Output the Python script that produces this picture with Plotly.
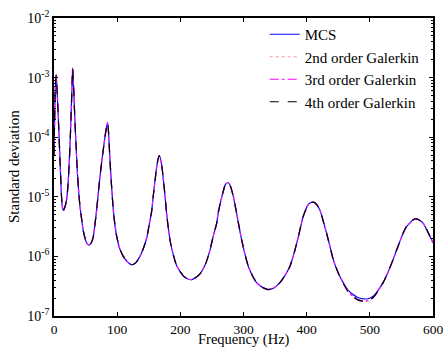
import plotly.graph_objects as go

# Frequency samples (Hz)
freq = [0, 1, 2, 3.3, 4.3, 5.5, 7.4, 9.5, 11.6, 13, 14.8, 17, 20, 22.5, 24.3, 26, 27, 28.5,
        29.5, 30.5, 31.6, 33, 34.8, 36.5, 38.5, 41, 43.8, 46, 49, 52, 55, 58, 62, 65, 67.5,
        70, 72.8, 75.5, 78, 80, 82.3, 84.9, 86.5, 88.6, 91, 93.9, 96.5, 99.2, 104, 109.7,
        116, 123, 130, 136, 141, 146.6, 151, 154.5, 157, 159.8, 163.4, 166.6, 170.4, 173,
        175.6, 178, 180.9, 184, 188.8, 194, 199.4, 205, 212, 218, 225, 232, 238, 241.6,
        246.8, 252.1, 257.4, 260, 262.7, 267.9, 271, 274.8, 278, 281.1, 285, 289, 293, 297,
        302, 307.4, 314, 320.7, 330, 339, 348, 357.6, 365, 373.4, 380, 386.6, 394.5, 402.4,
        406, 410.3, 415, 420.9, 426, 431.5, 437, 442, 450, 457.8, 465, 473.6, 481, 489.4,
        497, 505.2, 513, 521, 529, 536.9, 545, 552.7, 558, 563.3, 568, 572.8, 578, 584.3,
        590, 595, 600]

# log10 of the standard deviation, MCS
mcs_log10 = [-4.3, -3.7, -3.2, -2.96, -3.1, -3.35, -3.82, -4.38, -4.94, -5.15, -5.23, -5.18,
             -5.05, -4.75, -4.38, -3.95, -3.65, -3.15, -2.84, -3.05, -3.3, -3.7, -4.1, -4.5,
             -4.83, -5.15, -5.38, -5.55, -5.69, -5.78, -5.81, -5.79, -5.68, -5.45, -5.22,
             -4.95, -4.66, -4.42, -4.21, -4.05, -3.88, -3.75, -3.95, -4.38, -4.8, -5.22,
             -5.48, -5.66, -5.87, -6.0, -6.09, -6.14, -6.1, -6.0, -5.88, -5.7, -5.45, -5.25,
             -5.0, -4.74, -4.44, -4.31, -4.46, -4.7, -4.97, -5.25, -5.52, -5.75, -5.97,
             -6.15, -6.25, -6.33, -6.38, -6.39, -6.35, -6.28, -6.17, -6.08, -5.9, -5.66,
             -5.45, -5.27, -5.13, -4.91, -4.8, -4.76, -4.79, -4.88, -5.05, -5.27, -5.5,
             -5.72, -5.95, -6.16, -6.32, -6.44, -6.52, -6.556, -6.53, -6.44, -6.33, -6.17,
             -5.95, -5.68, -5.33, -5.13, -5.1, -5.09, -5.12, -5.22, -5.4, -5.61, -5.84,
             -6.05, -6.28, -6.44, -6.56, -6.64, -6.69, -6.712, -6.71, -6.67, -6.57, -6.44,
             -6.26, -6.05, -5.82, -5.61, -5.5, -5.44, -5.39, -5.372, -5.39, -5.44, -5.55,
             -5.66, -5.77]

# log10 of the standard deviation, Galerkin (2nd/3rd/4th order coincide visually)
gal_log10 = [-4.3, -3.7, -3.2, -2.96, -3.1, -3.35, -3.82, -4.38, -4.94, -5.15, -5.23, -5.18,
             -5.05, -4.75, -4.38, -3.95, -3.65, -3.15, -2.84, -3.05, -3.3, -3.7, -4.1, -4.5,
             -4.83, -5.15, -5.38, -5.55, -5.69, -5.78, -5.81, -5.79, -5.68, -5.45, -5.22,
             -4.95, -4.66, -4.42, -4.21, -4.05, -3.88, -3.75, -3.95, -4.38, -4.8, -5.22,
             -5.48, -5.66, -5.87, -6.0, -6.09, -6.14, -6.1, -6.0, -5.88, -5.7, -5.45, -5.25,
             -5.0, -4.74, -4.44, -4.31, -4.46, -4.7, -4.97, -5.25, -5.52, -5.75, -5.97,
             -6.15, -6.25, -6.33, -6.38, -6.39, -6.35, -6.28, -6.17, -6.08, -5.9, -5.66,
             -5.45, -5.27, -5.13, -4.91, -4.8, -4.76, -4.79, -4.88, -5.05, -5.27, -5.5,
             -5.72, -5.95, -6.16, -6.32, -6.44, -6.52, -6.556, -6.53, -6.44, -6.33, -6.17,
             -5.95, -5.68, -5.33, -5.13, -5.1, -5.09, -5.12, -5.22, -5.4, -5.61, -5.84,
             -6.05, -6.28, -6.45, -6.58, -6.67, -6.73, -6.75, -6.745, -6.69, -6.58, -6.44,
             -6.26, -6.05, -5.82, -5.61, -5.5, -5.44, -5.39, -5.372, -5.39, -5.44, -5.55,
             -5.66, -5.77]

series_names = ["MCS", "2nd order Galerkin", "3rd order Galerkin", "4th order Galerkin"]
series_vals = [mcs_log10, gal_log10, gal_log10, gal_log10]
colors = ["#0000ff", "#ff9999", "#ff00ff", "#000000"]
dashes = ["solid", "dot", "dashdot", "dash"]

y_decades = [-7, -6, -5, -4, -3, -2]
y_ticktext = ["10<sup>-%d</sup>" % (-e) for e in y_decades]
y_minor = [m * 10.0 ** e for e in y_decades[:-1] for m in range(2, 10)]

x_title = "Frequency (Hz)"
y_title = "Standard deviation"

SERIF = "Liberation Serif, Times New Roman, Times, serif"

fig = go.Figure()
for name, vals, c, d in zip(series_names, series_vals, colors, dashes):
    fig.add_trace(go.Scatter(
        x=freq, y=[10 ** v for v in vals], mode="lines", name=name,
        line=dict(color=c, dash=d, width=1.2, shape="spline", smoothing=0.6)))

fig.update_layout(
    width=445, height=350,
    margin=dict(l=54, r=12, t=18, b=34),
    paper_bgcolor="white", plot_bgcolor="white",
    font=dict(family=SERIF, size=15, color="black"),
    showlegend=True,
    legend=dict(x=0.556, xanchor="left", y=1.0, yanchor="top",
                bgcolor="rgba(0,0,0,0)",
                font=dict(family=SERIF, size=15, color="black"),
                tracegroupgap=0, itemwidth=30),
    xaxis=dict(range=[0, 600], dtick=100, tick0=0, showgrid=False, zeroline=False,
               automargin=False,
               showline=True, linecolor="black", linewidth=1.5, mirror="allticks",
               ticks="inside", ticklen=4, tickcolor="black",
               tickfont=dict(family=SERIF, size=13.5, color="black")),
    yaxis=dict(type="log", range=[-7, -2],
               tickmode="array", tickvals=[10.0 ** e for e in y_decades],
               ticktext=y_ticktext,
               showgrid=False, zeroline=False, automargin=False,
               showline=True, linecolor="black", linewidth=1.5, mirror="allticks",
               ticks="inside", ticklen=4, tickcolor="black",
               tickfont=dict(family=SERIF, size=14, color="black"),
               minor=dict(tickmode="array", tickvals=y_minor, ticks="inside",
                          ticklen=2, tickcolor="black", showgrid=False)),
    annotations=[
        dict(text=x_title, xref="paper", yref="paper", x=0.5, y=-0.114,
             xanchor="center", yanchor="bottom", showarrow=False,
             font=dict(family=SERIF, size=14.5, color="black")),
        dict(text=y_title, xref="paper", yref="paper", x=-0.1055, y=0.5,
             xanchor="center", yanchor="middle", showarrow=False, textangle=-90,
             font=dict(family=SERIF, size=15, color="black")),
    ],
)

fig.write_html("out.html")
